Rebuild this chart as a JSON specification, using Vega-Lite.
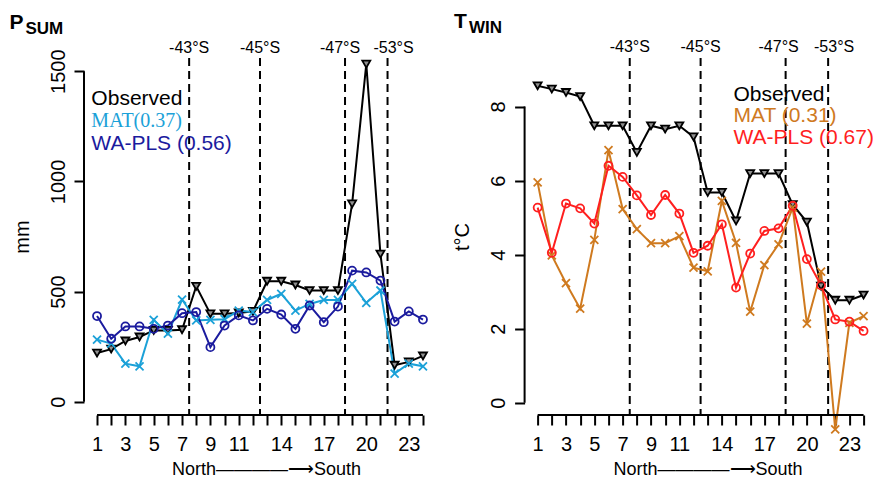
{
  "$schema": "https://vega.github.io/schema/vega-lite/v6.json",
  "background": "white",
  "padding": {"left": 9, "top": 10, "right": 0, "bottom": 0},
  "bounds": "flush",
  "spacing": 88.6,
  "resolve": {"scale": {"color": "independent", "stroke": "independent", "fill": "independent", "shape": "independent", "x": "independent", "y": "independent"}},
  "config": {
    "view": {"stroke": null},
    "font": "Liberation Sans",
    "axis": {
      "domain": false, "grid": false,
      "labelFont": "Liberation Sans", "labelFontSize": 20, "labelColor": "black",
      "tickColor": "black", "tickWidth": 2, "tickSize": 10,
      "titleFont": "Liberation Sans", "titleFontSize": 20, "titleFontWeight": "normal", "titleColor": "black",
      "labelOverlap": false, "labelFlush": false
    }
  },
  "datasets": {
    "psum": [
      {"site": 1, "Observed": 221, "MAT": 282, "WA-PLS": 389},
      {"site": 2, "Observed": 239, "MAT": 264, "WA-PLS": 286},
      {"site": 3, "Observed": 276, "MAT": 173, "WA-PLS": 342},
      {"site": 4, "Observed": 294, "MAT": 161, "WA-PLS": 342},
      {"site": 5, "Observed": 324, "MAT": 372, "WA-PLS": 331},
      {"site": 6, "Observed": 324, "MAT": 309, "WA-PLS": 346},
      {"site": 7, "Observed": 327, "MAT": 464, "WA-PLS": 402},
      {"site": 8, "Observed": 524, "MAT": 369, "WA-PLS": 407},
      {"site": 9, "Observed": 399, "MAT": 372, "WA-PLS": 248},
      {"site": 10, "Observed": 399, "MAT": 375, "WA-PLS": 346},
      {"site": 11, "Observed": 403, "MAT": 414, "WA-PLS": 392},
      {"site": 12, "Observed": 410, "MAT": 407, "WA-PLS": 369},
      {"site": 13, "Observed": 547, "MAT": 462, "WA-PLS": 422},
      {"site": 14, "Observed": 547, "MAT": 490, "WA-PLS": 396},
      {"site": 15, "Observed": 530, "MAT": 414, "WA-PLS": 331},
      {"site": 16, "Observed": 505, "MAT": 444, "WA-PLS": 437},
      {"site": 17, "Observed": 505, "MAT": 462, "WA-PLS": 361},
      {"site": 18, "Observed": 505, "MAT": 462, "WA-PLS": 432},
      {"site": 19, "Observed": 898, "MAT": 535, "WA-PLS": 595},
      {"site": 20, "Observed": 1532, "MAT": 449, "WA-PLS": 587},
      {"site": 21, "Observed": 670, "MAT": 505, "WA-PLS": 550},
      {"site": 22, "Observed": 166, "MAT": 128, "WA-PLS": 364},
      {"site": 23, "Observed": 181, "MAT": 173, "WA-PLS": 410},
      {"site": 24, "Observed": 208, "MAT": 161, "WA-PLS": 373}
    ],
    "twin": [
      {"site": 1, "Observed": 8.56, "MAT": 5.95, "WA-PLS": 5.27},
      {"site": 2, "Observed": 8.47, "MAT": 3.98, "WA-PLS": 4.05},
      {"site": 3, "Observed": 8.38, "MAT": 3.23, "WA-PLS": 5.38},
      {"site": 4, "Observed": 8.27, "MAT": 2.54, "WA-PLS": 5.25},
      {"site": 5, "Observed": 7.48, "MAT": 4.4, "WA-PLS": 4.84},
      {"site": 6, "Observed": 7.48, "MAT": 6.82, "WA-PLS": 6.4},
      {"site": 7, "Observed": 7.48, "MAT": 5.23, "WA-PLS": 6.1},
      {"site": 8, "Observed": 6.76, "MAT": 4.69, "WA-PLS": 5.6},
      {"site": 9, "Observed": 7.48, "MAT": 4.31, "WA-PLS": 5.07},
      {"site": 10, "Observed": 7.39, "MAT": 4.31, "WA-PLS": 5.61},
      {"site": 11, "Observed": 7.48, "MAT": 4.5, "WA-PLS": 5.11},
      {"site": 12, "Observed": 7.18, "MAT": 3.65, "WA-PLS": 4.05},
      {"site": 13, "Observed": 5.68, "MAT": 3.55, "WA-PLS": 4.24},
      {"site": 14, "Observed": 5.68, "MAT": 5.45, "WA-PLS": 4.82},
      {"site": 15, "Observed": 4.91, "MAT": 4.32, "WA-PLS": 3.11},
      {"site": 16, "Observed": 6.19, "MAT": 2.46, "WA-PLS": 4.03},
      {"site": 17, "Observed": 6.19, "MAT": 3.72, "WA-PLS": 4.64},
      {"site": 18, "Observed": 6.19, "MAT": 4.28, "WA-PLS": 4.71},
      {"site": 19, "Observed": 5.35, "MAT": 5.27, "WA-PLS": 5.32},
      {"site": 20, "Observed": 4.88, "MAT": 2.14, "WA-PLS": 3.88},
      {"site": 21, "Observed": 3.15, "MAT": 3.54, "WA-PLS": 3.17},
      {"site": 22, "Observed": 2.77, "MAT": -0.72, "WA-PLS": 2.25},
      {"site": 23, "Observed": 2.77, "MAT": 2.16, "WA-PLS": 2.19},
      {"site": 24, "Observed": 2.91, "MAT": 2.34, "WA-PLS": 1.94}
    ],
    "bounds": [
      {"pos": 7.5, "lat": "-43°S"},
      {"pos": 12.5, "lat": "-45°S"},
      {"pos": 18.5, "lat": "-47°S"},
      {"pos": 21.5, "lat": "-53°S"}
    ],
    "one": [{}]
  },
  "hconcat": [
    {
      "width": 352, "height": 357,
      "encoding": {
        "x": {"type": "quantitative", "scale": {"domain": [0.08, 24.92]},
          "axis": {"values": [1,2,3,4,5,6,7,8,9,10,11,12,13,14,15,16,17,18,19,20,21,22,23,24],
            "labelExpr": "indexof([1,3,5,7,9,11,14,17,20,23], datum.value) >= 0 ? datum.label : ''",
            "labelAngle": 0, "labelBaseline": "top", "labelPadding": 9,
            "title": "North————⟶South", "titleFontSize": 18, "titlePadding": 6, "titleX": 182, "titleAlign": "center"}},
        "y": {"type": "quantitative", "scale": {"domain": [-60, 1560]},
          "axis": {"values": [0, 500, 1000, 1500], "format": "d", "labelAngle": -90, "labelAlign": "center", "labelBaseline": "bottom", "labelPadding": 6,
            "title": "mm", "titlePadding": 16, "titleBaseline": "bottom"}}
      },
      "layer": [
        {
          "data": {"name": "bounds"},
          "mark": {"type": "rule", "strokeDash": [8, 5], "strokeWidth": 2, "color": "black"},
          "encoding": {"x": {"field": "pos"}}
        },
        {
          "data": {"name": "bounds"},
          "transform": [{"filter": "datum.pos < 15"}],
          "mark": {"type": "text", "fontSize": 16, "baseline": "middle", "align": "center", "color": "black"},
          "encoding": {"x": {"field": "pos"}, "y": {"datum": 1607}, "text": {"field": "lat"}}
        },
        {
          "data": {"name": "bounds"},
          "transform": [{"filter": "datum.pos == 18.5"}],
          "mark": {"type": "text", "fontSize": 16, "baseline": "middle", "align": "center", "color": "black", "dx": -5},
          "encoding": {"x": {"field": "pos"}, "y": {"datum": 1607}, "text": {"field": "lat"}}
        },
        {
          "data": {"name": "bounds"},
          "transform": [{"filter": "datum.pos == 21.5"}],
          "mark": {"type": "text", "fontSize": 16, "baseline": "middle", "align": "center", "color": "black", "dx": 6},
          "encoding": {"x": {"field": "pos"}, "y": {"datum": 1607}, "text": {"field": "lat"}}
        },
        {
          "data": {"name": "psum"},
          "transform": [{"fold": ["Observed", "MAT", "WA-PLS"], "as": ["series", "value"]}],
          "mark": {"type": "line", "strokeWidth": 2},
          "encoding": {
            "x": {"field": "site"},
            "y": {"field": "value"},
            "color": {"field": "series", "type": "nominal", "scale": {"domain": ["Observed", "MAT", "WA-PLS"], "range": ["black", "#1ba1d8", "#1b1b9e"]}, "legend": null}
          }
        },
        {
          "data": {"name": "psum"},
          "transform": [{"fold": ["Observed", "MAT", "WA-PLS"], "as": ["series", "value"]}],
          "mark": {"type": "point", "size": 64, "strokeWidth": 1.8, "opacity": 1},
          "encoding": {
            "x": {"field": "site"},
            "y": {"field": "value"},
            "shape": {"field": "series", "type": "nominal", "scale": {"domain": ["Observed", "MAT", "WA-PLS"], "range": ["triangle-down", "M-1,-1L1,1M-1,1L1,-1", "circle"]}, "legend": null},
            "stroke": {"field": "series", "type": "nominal", "scale": {"domain": ["Observed", "MAT", "WA-PLS"], "range": ["black", "#1ba1d8", "#1b1b9e"]}, "legend": null},
            "fill": {"field": "series", "type": "nominal", "scale": {"domain": ["Observed", "MAT", "WA-PLS"], "range": ["#909090", "transparent", "transparent"]}, "legend": null}
          }
        },
        {
          "data": {"name": "one"},
          "mark": {"type": "rule", "strokeWidth": 2, "color": "black"},
          "encoding": {"x": {"datum": 1}, "x2": {"datum": 24}, "y": {"datum": -60}}
        },
        {
          "data": {"name": "one"},
          "mark": {"type": "rule", "strokeWidth": 2, "color": "black"},
          "encoding": {"x": {"datum": 0.08}, "y": {"datum": 0}, "y2": {"datum": 1500}}
        },
        {
          "data": {"name": "one"},
          "mark": {"type": "text", "align": "left", "baseline": "middle", "fontSize": 21, "color": "black"},
          "encoding": {"x": {"datum": 0.6}, "y": {"datum": 1372}, "text": {"value": "Observed"}}
        },
        {
          "data": {"name": "one"},
          "mark": {"type": "text", "align": "left", "baseline": "middle", "fontSize": 20, "font": "Liberation Sans Narrow", "color": "#1ba1d8"},
          "encoding": {"x": {"datum": 0.6}, "y": {"datum": 1272}, "text": {"value": "MAT(0.37)"}}
        },
        {
          "data": {"name": "one"},
          "mark": {"type": "text", "align": "left", "baseline": "middle", "fontSize": 21, "color": "#1b1b9e"},
          "encoding": {"x": {"datum": 0.6}, "y": {"datum": 1169}, "text": {"value": "WA-PLS (0.56)"}}
        },
        {
          "data": {"name": "one"},
          "mark": {"type": "text", "align": "left", "baseline": "alphabetic", "fontSize": 21, "fontWeight": "bold", "color": "black"},
          "encoding": {"x": {"datum": -5.18}, "y": {"datum": 1692}, "text": {"value": "P"}}
        },
        {
          "data": {"name": "one"},
          "mark": {"type": "text", "align": "left", "baseline": "alphabetic", "fontSize": 17, "fontWeight": "bold", "color": "black"},
          "encoding": {"x": {"datum": -4.05}, "y": {"datum": 1670}, "text": {"value": "SUM"}}
        }
      ]
    },
    {
      "width": 352, "height": 357,
      "encoding": {
        "x": {"type": "quantitative", "scale": {"domain": [0.08, 24.92]},
          "axis": {"values": [1,2,3,4,5,6,7,8,9,10,11,12,13,14,15,16,17,18,19,20,21,22,23,24],
            "labelExpr": "indexof([1,3,5,7,9,11,14,17,20,23], datum.value) >= 0 ? datum.label : ''",
            "labelAngle": 0, "labelBaseline": "top", "labelPadding": 9,
            "title": "North————⟶South", "titleFontSize": 18, "titlePadding": 6, "titleX": 183, "titleAlign": "center"}},
        "y": {"type": "quantitative", "scale": {"domain": [-0.33, 9.31]},
          "axis": {"values": [0, 2, 4, 6, 8], "format": "d", "labelAngle": -90, "labelAlign": "center", "labelBaseline": "bottom", "labelPadding": 6,
            "title": "t°C", "titlePadding": 16, "titleBaseline": "bottom"}}
      },
      "layer": [
        {
          "data": {"name": "bounds"},
          "mark": {"type": "rule", "strokeDash": [8, 5], "strokeWidth": 2, "color": "black"},
          "encoding": {"x": {"field": "pos"}}
        },
        {
          "data": {"name": "bounds"},
          "transform": [{"filter": "datum.pos < 15"}],
          "mark": {"type": "text", "fontSize": 16, "baseline": "middle", "align": "center", "color": "black"},
          "encoding": {"x": {"field": "pos"}, "y": {"datum": 9.61}, "text": {"field": "lat"}}
        },
        {
          "data": {"name": "bounds"},
          "transform": [{"filter": "datum.pos == 18.5"}],
          "mark": {"type": "text", "fontSize": 16, "baseline": "middle", "align": "center", "color": "black", "dx": -7},
          "encoding": {"x": {"field": "pos"}, "y": {"datum": 9.61}, "text": {"field": "lat"}}
        },
        {
          "data": {"name": "bounds"},
          "transform": [{"filter": "datum.pos == 21.5"}],
          "mark": {"type": "text", "fontSize": 16, "baseline": "middle", "align": "center", "color": "black", "dx": 6},
          "encoding": {"x": {"field": "pos"}, "y": {"datum": 9.61}, "text": {"field": "lat"}}
        },
        {
          "data": {"name": "twin"},
          "transform": [{"fold": ["Observed", "MAT", "WA-PLS"], "as": ["series", "value"]}],
          "mark": {"type": "line", "strokeWidth": 2, "clip": false},
          "encoding": {
            "x": {"field": "site"},
            "y": {"field": "value"},
            "color": {"field": "series", "type": "nominal", "scale": {"domain": ["Observed", "MAT", "WA-PLS"], "range": ["black", "#cf7a1f", "#ff1f1f"]}, "legend": null}
          }
        },
        {
          "data": {"name": "twin"},
          "transform": [{"fold": ["Observed", "MAT", "WA-PLS"], "as": ["series", "value"]}],
          "mark": {"type": "point", "size": 64, "strokeWidth": 1.8, "opacity": 1, "clip": false},
          "encoding": {
            "x": {"field": "site"},
            "y": {"field": "value"},
            "shape": {"field": "series", "type": "nominal", "scale": {"domain": ["Observed", "MAT", "WA-PLS"], "range": ["triangle-down", "M-1,-1L1,1M-1,1L1,-1", "circle"]}, "legend": null},
            "stroke": {"field": "series", "type": "nominal", "scale": {"domain": ["Observed", "MAT", "WA-PLS"], "range": ["black", "#cf7a1f", "#ff1f1f"]}, "legend": null},
            "fill": {"field": "series", "type": "nominal", "scale": {"domain": ["Observed", "MAT", "WA-PLS"], "range": ["#909090", "transparent", "transparent"]}, "legend": null}
          }
        },
        {
          "data": {"name": "one"},
          "mark": {"type": "rule", "strokeWidth": 2, "color": "black"},
          "encoding": {"x": {"datum": 1}, "x2": {"datum": 24}, "y": {"datum": -0.33}}
        },
        {
          "data": {"name": "one"},
          "mark": {"type": "rule", "strokeWidth": 2, "color": "black"},
          "encoding": {"x": {"datum": 0.08}, "y": {"datum": 0}, "y2": {"datum": 8}}
        },
        {
          "data": {"name": "one"},
          "mark": {"type": "text", "align": "left", "baseline": "middle", "fontSize": 21, "color": "black"},
          "encoding": {"x": {"datum": 14.82}, "y": {"datum": 8.32}, "text": {"value": "Observed"}}
        },
        {
          "data": {"name": "one"},
          "mark": {"type": "text", "align": "left", "baseline": "middle", "fontSize": 21, "color": "#cf7a1f"},
          "encoding": {"x": {"datum": 14.82}, "y": {"datum": 7.75}, "text": {"value": "MAT (0.31)"}}
        },
        {
          "data": {"name": "one"},
          "mark": {"type": "text", "align": "left", "baseline": "middle", "fontSize": 21, "color": "#ff1f1f"},
          "encoding": {"x": {"datum": 14.82}, "y": {"datum": 7.15}, "text": {"value": "WA-PLS (0.67)"}}
        },
        {
          "data": {"name": "one"},
          "mark": {"type": "text", "align": "left", "baseline": "alphabetic", "fontSize": 21, "fontWeight": "bold", "color": "black"},
          "encoding": {"x": {"datum": -4.9}, "y": {"datum": 10.13}, "text": {"value": "T"}}
        },
        {
          "data": {"name": "one"},
          "mark": {"type": "text", "align": "left", "baseline": "alphabetic", "fontSize": 17, "fontWeight": "bold", "color": "black"},
          "encoding": {"x": {"datum": -3.85}, "y": {"datum": 9.99}, "text": {"value": "WIN"}}
        }
      ]
    }
  ]
}
